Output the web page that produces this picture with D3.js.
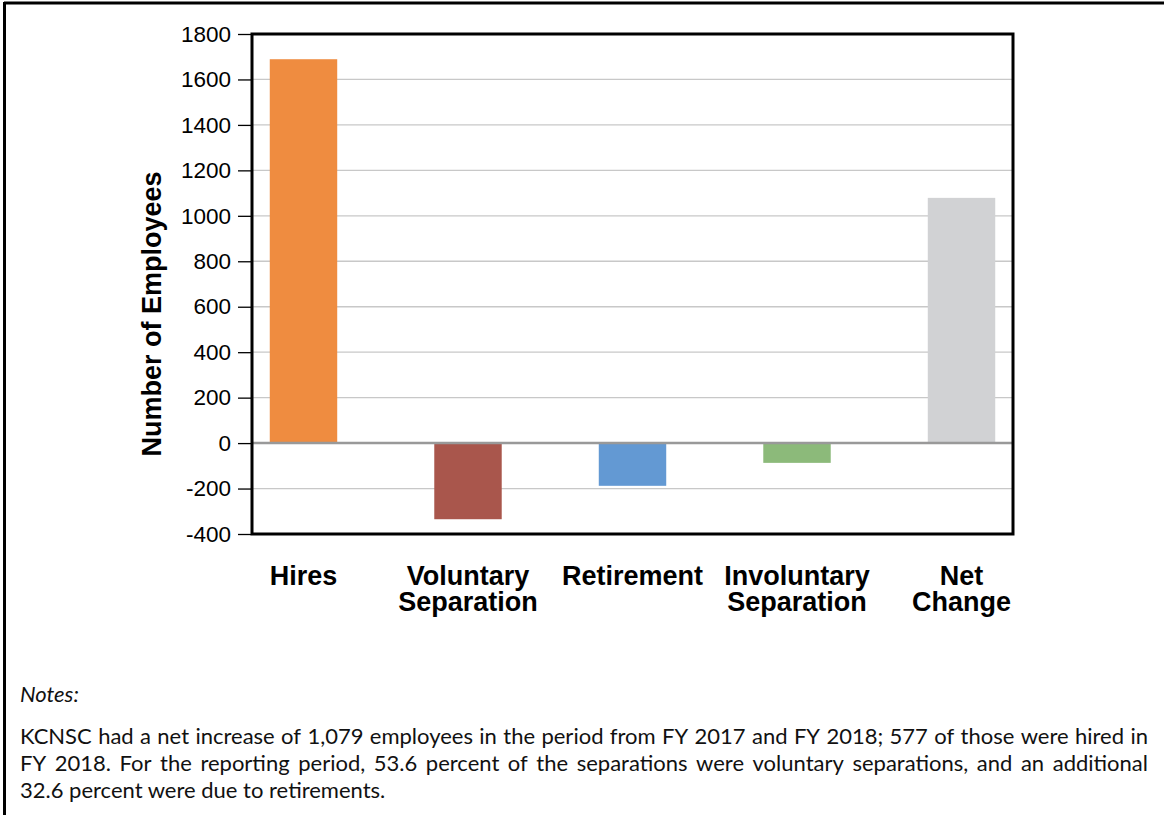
<!DOCTYPE html>
<html><head><meta charset="utf-8">
<script src="https://cdn.jsdelivr.net/npm/d3@7"></script>
<style>body{margin:0;background:#fff}svg{display:block}
.ar{font-family:"Liberation Sans", Arial, Helvetica, sans-serif;}
.nt{font-family:Lato, "Open Sans", sans-serif;}
</style>
</head><body>
<svg id="c" width="1164" height="815"></svg>
<script>
const categories = [["Hires"], ["Voluntary","Separation"], ["Retirement"], ["Involuntary","Separation"], ["Net","Change"]];
const values = [1689, -335, -188, -87, 1079];
const colors = ["#ef8c40", "#a9564c", "#6399d3", "#8cba7a", "#d1d2d4"];
const yTicks = [-400, -200, 0, 200, 400, 600, 800, 1000, 1200, 1400, 1600, 1800];
const yTitle = "Number of Employees";
const notesTitle = "Notes:";
const notesLines = [
  "KCNSC had a net increase of 1,079 employees in the period from FY 2017 and FY 2018; 577 of those were hired in",
  "FY 2018.  For the reporting period, 53.6 percent of the separations were voluntary separations, and an additional",
  "32.6 percent were due to retirements."
];

const svg = d3.select("#c");
const L = 252, R = 1013, T = 34, B = 534;
const y = d3.scaleLinear().domain([-400, 1800]).range([B, T]);
const x = d3.scalePoint().domain(d3.range(values.length)).range([L, R]).padding(0.313);
const bw = x.step() * 0.41;

// outer border
svg.append("line").attr("x1", 4).attr("x2", 1164).attr("y1", 3).attr("y2", 3).attr("stroke", "#000").attr("stroke-width", 3);
svg.append("line").attr("x1", 4.5).attr("x2", 4.5).attr("y1", 2).attr("y2", 815).attr("stroke", "#000").attr("stroke-width", 3);

// gridlines
svg.append("g").selectAll("line").data(yTicks.filter(d => d !== 0 && d !== 1800 && d !== -400)).join("line")
  .attr("x1", L).attr("x2", R).attr("y1", d => y(d)).attr("y2", d => y(d))
  .attr("stroke", "#c8c8c8").attr("stroke-width", 1.3);

// bars
svg.append("g").selectAll("rect").data(values).join("rect")
  .attr("x", (d, i) => x(i) - bw / 2).attr("width", bw)
  .attr("y", d => y(Math.max(0, d))).attr("height", d => Math.abs(y(d) - y(0)))
  .attr("fill", (d, i) => colors[i]);

// zero line
svg.append("line").attr("x1", L).attr("x2", R).attr("y1", y(0)).attr("y2", y(0))
  .attr("stroke", "#999").attr("stroke-width", 2.5);

// frame
svg.append("rect").attr("x", L).attr("y", T).attr("width", R - L).attr("height", B - T)
  .attr("fill", "none").attr("stroke", "#000").attr("stroke-width", 3);

// y axis
const yAxis = d3.axisLeft(y).tickValues(yTicks).tickSize(13).tickPadding(7).tickFormat(d => String(d));
const ga = svg.append("g").attr("transform", `translate(${L - 1},0)`).call(yAxis);
ga.attr("font-family", null).attr("font-size", null);
ga.select(".domain").remove();
ga.selectAll(".tick line").attr("stroke", "#000").attr("stroke-width", 1.3);
ga.selectAll(".tick text").attr("class", "ar").style("font-size", "22.5px").attr("fill", "#000");

svg.append("text").attr("class", "ar").attr("transform", `translate(161,${(170 + 458) / 2}) rotate(-90)`)
  .attr("text-anchor", "middle").style("font-weight", "bold").style("font-size", "27px").text(yTitle);

// category labels
const cl = svg.append("g").selectAll("text").data(categories).join("text")
  .attr("class", "ar").attr("text-anchor", "middle")
  .style("font-weight", "bold").style("font-size", "27px").attr("fill", "#000")
  .attr("x", (d, i) => x(i)).attr("y", 585);
cl.selectAll("tspan").data(d => d).join("tspan")
  .attr("x", function() { return d3.select(this.parentNode).attr("x"); })
  .attr("dy", (d, i) => i === 0 ? 0 : 26).text(d => d);

// notes
svg.append("text").attr("class", "nt").attr("x", 20).attr("y", 702)
  .style("font-style", "italic").style("font-size", "22px").attr("fill", "#111").text(notesTitle);

const lineY = [744, 771, 798];
const left = 20, right = 1148;
notesLines.forEach((ln, li) => {
  const g = svg.append("g");
  const words = ln.split(/ +/);
  if (li === notesLines.length - 1) {
    g.append("text").attr("class", "nt").attr("x", left).attr("y", lineY[li])
      .style("font-size", "22px").attr("fill", "#111").text(ln);
    return;
  }
  const nodes = words.map(w => g.append("text").attr("class", "nt").attr("y", lineY[li])
    .style("font-size", "22px").attr("fill", "#111").text(w));
  const widths = nodes.map(n => n.node().getComputedTextLength());
  const total = d3.sum(widths);
  const gap = (right - left - total) / (words.length - 1);
  let cx = left;
  nodes.forEach((n, i) => { n.attr("x", cx); cx += widths[i] + gap; });
});
</script>
</body></html>
